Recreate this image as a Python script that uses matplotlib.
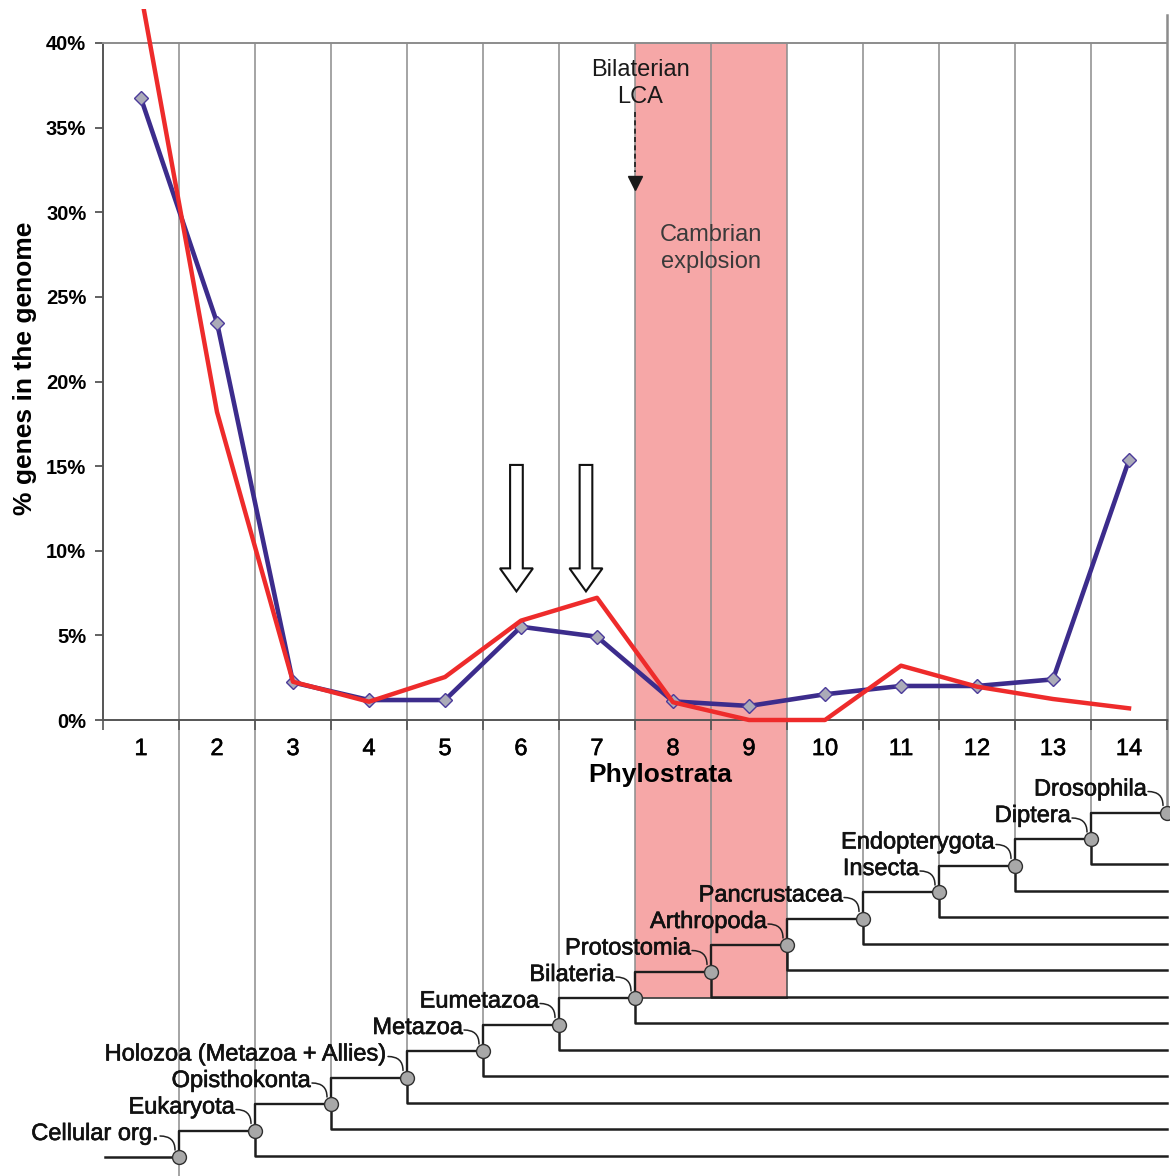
import matplotlib
matplotlib.use('Agg')
import matplotlib.pyplot as plt
from matplotlib.patches import FancyArrow, Rectangle
import matplotlib.patheffects as pe
import numpy as np

plt.rcParams['font.family'] = ['Liberation Sans', 'DejaVu Sans']

# ---------------- data ----------------
phylostrata = list(range(1, 15))
blue_pct = [36.73, 23.48, 2.22, 1.18, 1.18, 5.51, 4.92, 1.10, 0.83, 1.52, 2.01, 2.01, 2.40, 15.36]
red_pct = [42.9, 18.2, 2.26, 1.08, 2.54, 5.87, 7.22, 1.05, 0.0, 0.0, 3.21, 1.97, 1.24, 0.69]
clades = ["Cellular org.", "Eukaryota", "Opisthokonta", "Holozoa (Metazoa + Allies)",
          "Metazoa", "Eumetazoa", "Bilateria", "Protostomia", "Arthropoda",
          "Pancrustacea", "Insecta", "Endopterygota", "Diptera", "Drosophila"]
ytick_vals = [0, 5, 10, 15, 20, 25, 30, 35, 40]
ytick_labels = [f"{v}%" for v in ytick_vals]

# ---------------- layout ----------------
W, H = 1170, 1176
fig = plt.figure(figsize=(W / 100, H / 100), dpi=100)
L_px, R_px, T_px, B_px = 103, 1167, 43, 720
tx = fig.add_axes([L_px / W, 0, (R_px - L_px) / W, 1 - B_px / H])
ax = fig.add_axes([L_px / W, 1 - B_px / H, (R_px - L_px) / W, (B_px - T_px) / H])
tx.set_zorder(1)
ax.set_zorder(3)

GRID = '#8c8c8c'
PINK = '#F6A7A7'
DARK = '#1e1e1e'
heavy = [pe.withStroke(linewidth=0.45, foreground='#111111')]

ax.set_xlim(0.5, 14.5)
ax.set_ylim(0, 40)

# Cambrian band
ax.axvspan(7.5, 9.5, color=PINK, lw=0, zorder=0)
for b in np.arange(1.5, 14.0, 1.0):
    ax.axvline(b, color=GRID, lw=1.1, zorder=1)
ax.plot([14.5, 14.5], [0, 41.65], color=GRID, lw=1.8, clip_on=False, zorder=1)

for s in ['left', 'bottom']:
    ax.spines[s].set_color('#555555')
    ax.spines[s].set_linewidth(1.4)
ax.spines['top'].set_color(GRID)
ax.spines['top'].set_linewidth(1.4)
ax.spines['right'].set_visible(False)

# series
ax.plot(phylostrata, blue_pct, color='#3C2C8C', lw=3.3, marker='D', ms=7,
        mfc='#ABABB8', mec='#4B3A9A', mew=1.0, zorder=3, clip_on=False)
red_line, = ax.plot(phylostrata, red_pct, color='#EE2B2B', lw=3.2, zorder=4, clip_on=False)
clip_rect = Rectangle((0.5, -1.0), 14.0, 43.0, transform=ax.transData)
red_line.set_clip_path(clip_rect)
red_line.set_clip_on(True)

# ticks
ax.set_yticks(ytick_vals)
ax.set_yticklabels(ytick_labels)
for t in ax.get_yticklabels():
    t.set_fontweight('bold')
ax.tick_params(axis='y', length=6, width=1.3, color='#555555', pad=6, labelsize=14.5)
ax.set_xticks(phylostrata)
ax.set_xticklabels([str(p) for p in phylostrata])
for t in ax.get_xticklabels():
    t.set_path_effects(heavy)
ax.set_xticks(np.arange(0.5, 14.6, 1.0), minor=True)
ax.tick_params(axis='x', which='major', length=0, pad=13, labelsize=17)
ax.tick_params(axis='x', which='minor', length=7, width=1.2, color='#555555')

# annotations
ax.text(7.57, 37.6, "Bilaterian\nLCA", ha='center', va='center', fontsize=17,
        linespacing=1.3, color='#1a1a1a', zorder=6)
ax.plot([7.5, 7.5], [35.9, 32.4], color='#1a1a1a', lw=1.2, ls=(0, (3, 2)), zorder=6)
ax.plot([7.5], [31.75], marker='v', ms=10, color='#1a1a1a', zorder=6)
ax.text(8.5, 27.85, "Cambrian\nexplosion", ha='center', va='center', fontsize=17,
        linespacing=1.3, color='#3a3a3a', zorder=6)

for xa in [5.94, 6.855]:
    arr = FancyArrow(xa, 15.07, 0, -(15.07 - 7.6), width=0.167, head_width=0.434,
                     head_length=1.36, length_includes_head=True, fc='white',
                     ec='#111111', lw=1.5, zorder=6)
    ax.add_patch(arr)

fig.text(25 / W, 1 - 368 / H, "% genes in the genome", rotation=90, ha='center',
         va='center', fontsize=19, fontweight='bold')
fig.text(660 / W, 1 - 775 / H, "Phylostrata", ha='center', va='center',
         fontsize=19, fontweight='bold', zorder=10)

# ---------------- tree ----------------
step_px = 26.5
root_px = 1157
lev_bottom = 1 - (H - root_px) / step_px
lev_top = 1 + (root_px - B_px) / step_px
tx.set_xlim(0.5, 14.5)
tx.set_ylim(lev_bottom, lev_top)
tx.axis('off')
dxp = 14.0 / (R_px - L_px)
dyp = 1.0 / step_px

n = len(clades)
node_x = [i + 1.5 for i in range(n)]
node_lev = [i + 1 for i in range(n)]

tx.add_patch(Rectangle((7.5, 7), 2.0, lev_top - 7, fc=PINK, lw=0, zorder=0))

for i in range(n):
    lo = lev_bottom if i == 0 else node_lev[i]
    tx.plot([node_x[i], node_x[i]], [lo, lev_top], color=GRID,
            lw=1.8 if i == n - 1 else 1.1, zorder=1, clip_on=False)

tx.plot([7.5, 9.5], [7, 7], color='#444444', lw=1.3, zorder=2, clip_on=False)
tx.plot([9.5, 9.5], [7, 9], color='#555555', lw=1.2, zorder=2, clip_on=False)

tx.plot([0.53, node_x[0]], [1, 1], color=DARK, lw=1.8, zorder=2, clip_on=False)
for i in range(n - 1):
    tx.plot([node_x[i], node_x[i], node_x[i + 1]],
            [node_lev[i], node_lev[i + 1], node_lev[i + 1]],
            color=DARK, lw=1.7, zorder=2, clip_on=False)
for i in range(1, n - 1):
    tx.plot([node_x[i], node_x[i], 14.5],
            [node_lev[i], node_lev[i] - 0.95, node_lev[i] - 0.95],
            color=DARK, lw=1.8, zorder=2, clip_on=False)

tx.plot(node_x, node_lev, 'o', ms=10, mfc='#A8A8A8', mec='#303030', mew=1.0,
        ls='none', zorder=5, clip_on=False)

for i, name in enumerate(clades):
    x0, l0 = node_x[i], node_lev[i]
    tx.text(x0 - 20 * dxp, l0 + 17 * dyp, name, ha='right', va='baseline',
            fontsize=17, color='#111111', zorder=6, path_effects=heavy)
    tx.annotate('', xy=(x0 - 4 * dxp, l0 + 7 * dyp),
                xytext=(x0 - 19 * dxp, l0 + 21 * dyp),
                arrowprops=dict(arrowstyle='-', connectionstyle='angle3,angleA=0,angleB=90',
                                lw=1.1, color='#222222', shrinkA=0, shrinkB=0),
                annotation_clip=False, zorder=6)

fig.savefig('out.png', dpi=100)
